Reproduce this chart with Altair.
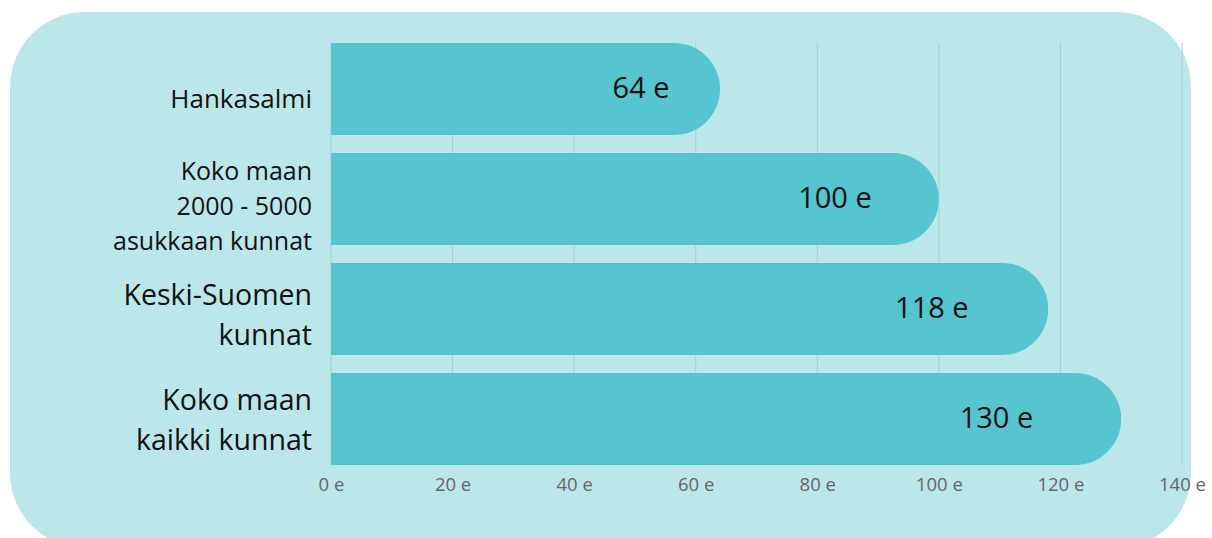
import altair as alt
import pandas as pd

categories = ["Hankasalmi", "Koko maan\n2000 - 5000\nasukkaan kunnat", "Keski-Suomen\nkunnat", "Koko maan\nkaikki kunnat"]
values = [64, 100, 118, 130]
value_labels = ["64 e", "100 e", "118 e", "130 e"]
ticks = [0, 20, 40, 60, 80, 100, 120, 140]

df = pd.DataFrame({"cat": categories, "val": values, "lab": value_labels})
tick_df = pd.DataFrame({"t": ticks})

W, H = 851, 422
xscale = alt.Scale(domain=[0, 140], nice=False, zero=True)
yscale = alt.Scale(domain=categories, paddingInner=0.1636, paddingOuter=0)
xaxis = alt.Axis(values=ticks, grid=False, domain=False, ticks=False,
                 labelExpr="datum.value + ' e'", labelFontSize=18.5,
                 labelColor="#666666", labelFont="Open Sans",
                 labelPadding=10, title=None, labelFlush=False, zindex=1)
ycode = alt.Y("cat:N", scale=yscale, axis=None, sort=categories)

bg = alt.Chart(pd.DataFrame({"a": [0]})).mark_rect(
    color="#bce7ea", cornerRadius=75
).encode(
    x=alt.value(-321), x2=alt.value(860), y=alt.value(-31), y2=alt.value(505)
)

grid = alt.Chart(tick_df).mark_rule(color="#a6cdd2", strokeWidth=1).encode(
    x=alt.X("t:Q", scale=xscale, axis=xaxis),
    y=alt.value(0), y2=alt.value(H)
)

bars = alt.Chart(df).mark_bar(color="#56c5cf", cornerRadiusEnd=46).encode(
    x=alt.X("val:Q", scale=xscale, axis=xaxis),
    y=ycode,
)

vlabels = alt.Chart(df).transform_calculate(
    lx="0.886 * datum.val - 5.7"
).mark_text(font="Open Sans", fontSize=29, color="#111111", align="center",
            baseline="middle", dy=0).encode(
    x=alt.X("lx:Q", scale=xscale, axis=xaxis),
    y=ycode,
    text="lab:N",
)


def ylabel(cat, size, line_h, dy):
    return alt.Chart(df).transform_filter(
        alt.FieldEqualPredicate(field="cat", equal=cat)
    ).mark_text(font="Open Sans", fontSize=size, lineHeight=line_h, lineBreak="\n",
                color="#111111", align="right", baseline="middle", dy=dy).encode(
        x=alt.value(-19),
        y=ycode,
        text="cat:N",
    )


ylabels = [
    ylabel(categories[0], 26, 35, 11),
    ylabel(categories[1], 25, 35, -27),
    ylabel(categories[2], 28.5, 40, -13),
    ylabel(categories[3], 28.5, 40, -18),
]

chart = alt.layer(bg, grid, bars, vlabels, *ylabels).properties(
    width=W, height=H,
    autosize=alt.AutoSizeParams(type="none"),
    padding={"left": 331, "top": 43, "right": 30, "bottom": 73},
    background="white",
).configure_view(stroke=None)

chart.save("out.html", embed_options={"renderer": "svg", "actions": False})
